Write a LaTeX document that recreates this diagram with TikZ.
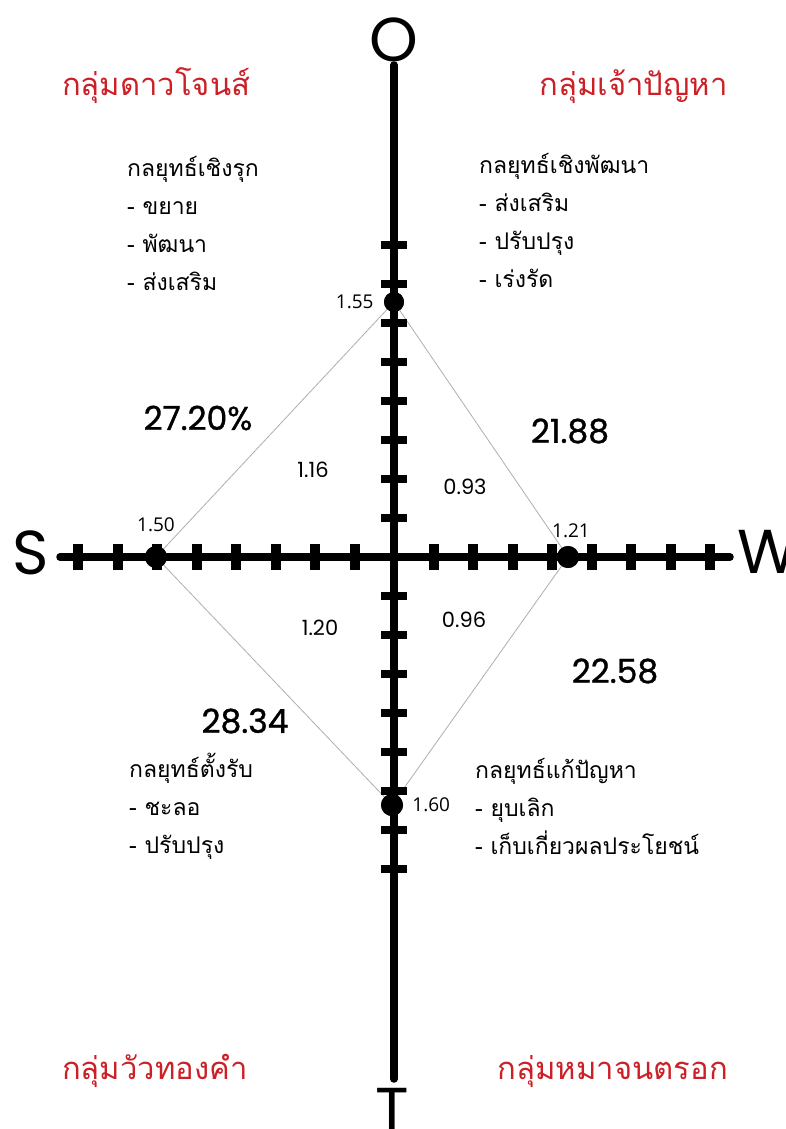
\documentclass[tikz,border=0pt]{standalone}
\usepackage{fontspec}
\newfontfamily\thaifont[Script=Thai]{Loma}
\newfontfamily\geofont{Poppins}
\newfontfamily\sharefont[FakeBold=1]{Poppins}
\newfontfamily\uifont{Open Sans}
\usetikzlibrary{positioning}
\definecolor{groupred}{RGB}{204,32,39}
\definecolor{diagline}{RGB}{175,175,175}

\begin{document}
\begin{tikzpicture}[x=1pt, y=-1pt,
  axis/.style={line width=7.5pt, line cap=round},
  vtick/.style={line width=8pt},
  htick/.style={line width=10pt},
  dot/.style={circle, fill=black, inner sep=0pt, minimum size=22pt},
  edge/.style={draw=diagline, line width=0.8pt},
  letter/.style={font=\geofont\fontsize{62}{62}\selectfont, inner sep=0pt},
  group/.style={font=\thaifont\fontsize{31}{34}\selectfont, text=groupred, inner sep=0pt},
  strat/.style={font=\thaifont\fontsize{23}{38}\selectfont, align=left, inner sep=0pt, anchor=base west},
  share/.style={font=\sharefont\fontsize{33}{35}\selectfont, inner sep=0pt},
  weight/.style={font=\geofont\fontsize{21}{23}\selectfont, inner sep=0pt},
  score/.style={font=\uifont\fontsize{19}{21}\selectfont, inner sep=0pt}]
  \useasboundingbox[fill=white] (0,0) rectangle (785,1129);

  % axes
  \coordinate (oend) at (394,65);
  \coordinate (tend) at (394,1079);
  \coordinate (send) at (60,557);
  \coordinate (wend) at (730,557);
  \node[letter, anchor=base] (lo) at (394,62) {O};
  \node[letter, anchor=base] (ls) at (31,574) {S};
  \node[letter, anchor=base west] (lw) at (737,573) {W};
  \node[letter, anchor=base] (lt) at (392,1131) {T};

  % diamond
  \node[dot, minimum size=20pt] (pO) at (394,302) {};
  \node[dot] (pS) at (156,557) {};
  \node[dot] (pW) at (568,557) {};
  \node[dot] (pT) at (392,805) {};
  \draw[edge] (pO.center) -- (pS.center) -- (pT.center) -- (pW.center) -- (pO.center);

  \draw[axis] (oend) -- (tend);
  \draw[axis] (send) -- (wend);
  \foreach \k in {1,...,8} {
    \draw[vtick] (381,{557-39*\k}) -- (407,{557-39*\k});
    \draw[vtick] (381,{557+39*\k}) -- (407,{557+39*\k});
    \draw[htick] ({394-39.5*\k},544) -- ({394-39.5*\k},570);
    \draw[htick] ({394+39.5*\k},544) -- ({394+39.5*\k},570);
  }
  \node[dot, minimum size=20pt] at (pO) {};
  \node[dot] at (pS) {};
  \node[dot] at (pW) {};
  \node[dot] at (pT) {};

  % scores
  \node[score, left=10pt of pO] (so) {1.55};
  \node[score, above=14pt of pS] (ss) {1.50};
  \node[score, above=8pt of pW, xshift=3pt] (sw) {1.21};
  \node[score, right=9pt of pT] (st) {1.60};

  % weights and shares
  \node[weight] (w1) at (313,470) {1.16};
  \node[weight] (w2) at (465,487) {0.93};
  \node[weight] (w3) at (320,628) {1.20};
  \node[weight] (w4) at (464,620) {0.96};
  \node[share] (q1) at (198,418) {27.20\%};
  \node[share] (q2) at (570,431) {21.88};
  \node[share] (q3) at (615,671) {22.58};
  \node[share] (q4) at (245,721) {28.34};

  % groups
  \node[group, anchor=base west] (g1) at (62,96) {กลุ่มดาวโจนส์};
  \node[group, anchor=base east] (g2) at (728,96) {กลุ่มเจ้าปัญหา};
  \node[group, anchor=base west] (g3) at (62,1079) {กลุ่มวัวทองคำ};
  \node[group, anchor=base east] (g4) at (728,1079) {กลุ่มหมาจนตรอก};

  % strategies (anchored at the last line)
  \node[strat] (k1) at (127,290) {กลยุทธ์เชิงรุก\\- ขยาย\\- พัฒนา\\- ส่งเสริม};
  \node[strat] (k2) at (479,287) {กลยุทธ์เชิงพัฒนา\\- ส่งเสริม\\- ปรับปรุง\\- เร่งรัด};
  \node[strat] (k3) at (129,853) {กลยุทธ์ตั้งรับ\\- ชะลอ\\- ปรับปรุง};
  \node[strat] (k4) at (475,854) {กลยุทธ์แก้ปัญหา\\- ยุบเลิก\\- เก็บเกี่ยวผลประโยชน์};
\end{tikzpicture}
\end{document}
